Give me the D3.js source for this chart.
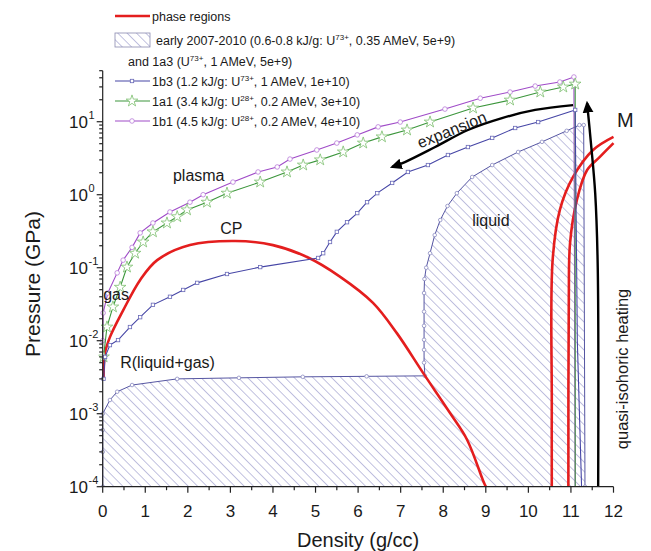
<!DOCTYPE html>
<html><head><meta charset="utf-8">
<script src="https://cdn.jsdelivr.net/npm/d3@7"></script>
<style>body{margin:0;background:#fff}svg text{font-family:"Liberation Sans",Arial,sans-serif;fill:#1a1a1a}</style>
</head><body><svg id="c" width="651" height="551"></svg>
<script>
// ---------- data ----------
const xTickValues = [0,1,2,3,4,5,6,7,8,9,10,11,12];
const yTickExponents = [-4,-3,-2,-1,0,1];

// red binodal (phase boundary)
const binodalX = [0.02,0.054,0.17,0.48,0.88,1.28,2.05,3.11,4.0,4.8,5.58,6.35,6.91,7.53,8.16,8.56,8.93,9.0];
const binodalY = [0.003,0.0068,0.0112,0.026,0.068,0.127,0.204,0.232,0.204,0.14,0.075,0.033,0.0127,0.0036,0.00102,0.00044,0.000124,0.0001];
// red melting curves
const melt1X = [10.55,10.55,10.57,10.74,11.05,11.52,12.0];
const melt1Y = [0.0001,0.0015,0.127,0.62,1.75,4.1,6.2];
const melt2X = [10.94,10.95,10.98,11.14,11.38,11.68,12.0];
const melt2Y = [0.0001,0.036,0.22,0.85,2.18,3.3,5.1];

// early 2007-2010 region outline
const earlyX = [0,0,0,0,0.17,0.34,0.69,1.75,3.2,4.7,6.2,7.57,7.55,7.55,7.55,7.55,7.55,7.55,7.56,7.6,7.69,7.8,7.93,8.1,8.32,8.68,9.15,9.76,10.32,10.9,11.2,11.3,11.33];
const earlyY = [0.0001,0.0003,0.0006,0.001,0.00154,0.002,0.00247,0.003,0.0031,0.0032,0.00325,0.0033,0.005,0.0075,0.0103,0.016,0.025,0.045,0.07,0.1,0.158,0.28,0.45,0.7,1.05,1.75,2.55,3.85,5.3,7.5,9.0,9.0,0.0001];

// trajectories
const b3X = [11.25,11.15,11.1,10.23,9.69,9.15,8.58,8.11,7.64,7.17,6.8,6.45,6.21,5.98,5.74,5.5,5.34,5.18,5.06,3.7,2.92,2.22,1.89,1.58,1.18,0.88,0.64,0.36,0.17,0.056,0.02];
const b3Y = [0.0001,0.01,14.5,9.9,8.2,6.0,4.5,3.5,2.55,2.05,1.45,1.05,0.79,0.56,0.42,0.31,0.225,0.158,0.136,0.102,0.082,0.062,0.0496,0.040,0.031,0.021,0.0154,0.0102,0.0087,0.006,0.003];
const a1X = [11.1,11.1,10.82,10.28,9.57,8.7,7.69,7.15,6.56,6.12,5.65,5.11,4.71,4.33,3.7,2.92,2.45,1.98,1.75,1.51,1.18,0.95,0.76,0.57,0.41,0.24,0.10,0.02];
const a1Y = [0.0001,32.8,29.9,25.5,19.8,15.4,9.9,7.7,6.2,5.1,3.85,3.0,2.55,2.05,1.49,1.05,0.79,0.62,0.50,0.41,0.31,0.225,0.158,0.102,0.054,0.029,0.0154,0.006];
const b1X = [11.1,11.07,10.74,10.16,9.57,8.87,8.04,6.99,6.47,5.98,5.5,5.03,4.4,4.1,3.65,3.06,2.36,2.05,1.58,1.18,0.88,0.69,0.48,0.34,0.12,0.01,0.0];
const b1Y = [0.0001,41,35,30.8,25.5,21,14.9,9.9,8.5,6.6,5.1,4.1,3.08,2.4,2.05,1.49,1.0,0.79,0.58,0.41,0.30,0.19,0.127,0.085,0.045,0.024,0.01];

// arrows
const expansionX = [11.05,10.16,9.38,8.58,7.81,7.1,6.8];
const expansionY = [16.9,14.5,11.2,7.7,4.5,2.8,2.4];
const heatingX = [11.64,11.63,11.57,11.47,11.38];
const heatingY = [0.0001,0.1,1.05,5.1,18];

// legend labels (^{..} = superscript)
const legendLabels = [
  "phase regions",
  "early 2007-2010 (0.6-0.8 kJ/g: U^{73+}, 0.35 AMeV, 5e+9)",
  "and 1a3 (U^{73+}, 1 AMeV, 5e+9)",
  "1b3 (1.2 kJ/g: U^{73+}, 1 AMeV, 1e+10)",
  "1a1 (3.4 kJ/g: U^{28+},  0.2 AMeV, 3e+10)",
  "1b1 (4.5 kJ/g: U^{28+}, 0.2 AMeV, 4e+10)"
];

// ---------- drawing ----------
const svg = d3.select("#c");
const x = d3.scaleLinear().domain([0,12]).range([102.7,613.5]);
const y = d3.scaleLog().domain([1e-4,50]).range([486.7,70.7]);

const defs = svg.append("defs");
const pat = defs.append("pattern").attr("id","hatch").attr("patternUnits","userSpaceOnUse")
  .attr("width",6.6).attr("height",6.6).attr("patternTransform","rotate(-45)");
pat.append("line").attr("x1",0).attr("y1",-1).attr("x2",0).attr("y2",8).attr("stroke","#8e8ec6").attr("stroke-width",1.1);
defs.append("clipPath").attr("id","clip").append("rect")
  .attr("x",x(0)-4).attr("y",y(50)-8).attr("width",x(12)-x(0)+8).attr("height",y(1e-4)-y(50)+8);
const mk = defs.append("marker").attr("id","arrow").attr("viewBox","0 0 10 10").attr("refX",8).attr("refY",5)
  .attr("markerWidth",5).attr("markerHeight",5).attr("orient","auto-start-reverse").attr("markerUnits","strokeWidth");
mk.append("path").attr("d","M0,0.5 L10,5 L0,9.5 Z").attr("fill","#000");

const line = d3.line().x(d=>x(d[0])).y(d=>y(d[1]));
const smooth = d3.line().x(d=>x(d[0])).y(d=>y(d[1])).curve(d3.curveCatmullRom.alpha(0.5));

const plot = svg.append("g").attr("clip-path","url(#clip)");

// hatched region
const early = d3.zip(earlyX, earlyY);
plot.append("path").attr("d", line(early)+"Z").attr("fill","url(#hatch)").attr("stroke","none");
plot.append("path").attr("d", line(early)).attr("fill","none").attr("stroke","#5656a2").attr("stroke-width",1);
plot.selectAll(".em").data(early).join("circle").attr("cx",d=>x(d[0])).attr("cy",d=>y(d[1])).attr("r",1.8)
  .attr("fill","#fff").attr("stroke","#8a8ac0").attr("stroke-width",0.8);

// red phase curves
[[binodalX,binodalY],[melt1X,melt1Y],[melt2X,melt2Y]].forEach(([xs,ys])=>{
  plot.append("path").attr("d", smooth(d3.zip(xs,ys))).attr("fill","none").attr("stroke","#e41e1e").attr("stroke-width",2.6);
});

// trajectories
function traj(xs, ys, color, markerFn){
  const pts = d3.zip(xs,ys);
  plot.append("path").attr("d", line(pts)).attr("fill","none").attr("stroke",color).attr("stroke-width",1.1);
  markerFn(plot, pts.filter(d=>d[1]>0.0002 && !(d[0]>11.05 && d[1]<1)));
}
const circleMarks = (col)=> (g,pts)=> g.selectAll(null).data(pts).join("circle")
  .attr("cx",d=>x(d[0])).attr("cy",d=>y(d[1])).attr("r",2.3).attr("fill","#fff").attr("stroke",col).attr("stroke-width",0.8);
const squareMarks = (col)=> (g,pts)=> g.selectAll(null).data(pts).join("rect")
  .attr("x",d=>x(d[0])-1.7).attr("y",d=>y(d[1])-1.7).attr("width",3.4).attr("height",3.4)
  .attr("fill","#fff").attr("stroke",col).attr("stroke-width",0.8);
const starSym = d3.symbol().type(d3.symbolStar).size(42);
const starMarks = (col)=> (g,pts)=> g.selectAll(null).data(pts).join("path")
  .attr("d",starSym).attr("transform",d=>`translate(${x(d[0])},${y(d[1])})`)
  .attr("fill","#fff").attr("stroke",col).attr("stroke-width",0.8);

traj(b1X,b1Y,"#a04cc8",circleMarks("#b77ad8"));
traj(a1X,a1Y,"#3c963c",starMarks("#7cbf6e"));
traj(b3X,b3Y,"#4646a6",squareMarks("#6a6ab8"));

// arrows
svg.append("path").attr("d", smooth(d3.zip(expansionX,expansionY))).attr("fill","none")
  .attr("stroke","#000").attr("stroke-width",2.4).attr("marker-end","url(#arrow)");
svg.append("path").attr("d", smooth(d3.zip(heatingX,heatingY))).attr("fill","none")
  .attr("stroke","#000").attr("stroke-width",2.4).attr("marker-end","url(#arrow)");

// axes
const ax = svg.append("g").attr("stroke","#222").attr("stroke-width",1.2).attr("fill","none");
ax.append("line").attr("x1",x(0)).attr("x2",x(12)).attr("y1",y(1e-4)).attr("y2",y(1e-4));
ax.append("line").attr("x1",x(0)).attr("x2",x(0)).attr("y1",y(1e-4)).attr("y2",y(50));
xTickValues.forEach(v=>{
  ax.append("line").attr("x1",x(v)).attr("x2",x(v)).attr("y1",y(1e-4)).attr("y2",y(1e-4)+6);
  if(v<12) ax.append("line").attr("x1",x(v+0.5)).attr("x2",x(v+0.5)).attr("y1",y(1e-4)).attr("y2",y(1e-4)+3.5);
});
svg.selectAll(".xt").data(xTickValues).join("text").attr("x",d=>x(d)).attr("y",517)
  .attr("text-anchor","middle").attr("font-size",17).text(d=>d);
yTickExponents.forEach(e=>{
  const v = Math.pow(10,e);
  ax.append("line").attr("x1",x(0)-6).attr("x2",x(0)).attr("y1",y(v)).attr("y2",y(v));
  for(let m=2;m<=9;m++){ const mv=m*v; if(mv<=50.0001)
    ax.append("line").attr("x1",x(0)-3.5).attr("x2",x(0)).attr("y1",y(mv)).attr("y2",y(mv)); }
  svg.append("text").attr("x",88).attr("y",y(v)+6).attr("text-anchor","end").attr("font-size",17).text("10");
  svg.append("text").attr("x",88.5).attr("y",y(v)-3).attr("font-size",11).text(e);
});
svg.append("text").attr("transform",`translate(40,284) rotate(-90)`).attr("text-anchor","middle")
  .attr("font-size",21).text("Pressure (GPa)");
svg.append("text").attr("x",(x(0)+x(12))/2).attr("y",547).attr("text-anchor","middle")
  .attr("font-size",20).text("Density (g/cc)");

// annotations
const ann = (t,dx,dy,size,anchor)=>svg.append("text").attr("x",x(dx)).attr("y",y(dy)).attr("font-size",size)
  .attr("text-anchor",anchor||"start").text(t);
ann("plasma",1.65,1.54,16);
ann("CP",2.76,0.29,16);
ann("gas",0.01,0.036,16);
ann("R(liquid+gas)",0.41,0.0042,16);
ann("liquid",8.68,0.37,16);
ann("M",12.08,8.5,20);
svg.append("text").attr("transform",`translate(${x(8.25)},${y(6.6)}) rotate(-22)`).attr("text-anchor","middle")
  .attr("font-size",16).text("expansion");
svg.append("text").attr("transform",`translate(628,${y(0.0041)}) rotate(-90)`).attr("text-anchor","middle")
  .attr("font-size",16.5).text("quasi-isohoric heating");

// legend
function richText(sel, s){
  const parts = s.split(/(\^\{[^}]*\})/);
  let up=false;
  parts.forEach(p=>{
    if(!p) return;
    if(p.startsWith("^{")){ sel.append("tspan").attr("dy",-5).attr("font-size",8).text(p.slice(2,-1)); up=true; }
    else { const t=sel.append("tspan").text(p); if(up){ t.attr("dy",5); up=false; } }
  });
}
const lg = svg.append("g");
lg.append("line").attr("x1",115).attr("x2",150).attr("y1",16).attr("y2",16).attr("stroke","#e41e1e").attr("stroke-width",2.6);
lg.append("rect").attr("x",115).attr("y",33).attr("width",35).attr("height",14).attr("fill","url(#hatch)").attr("stroke","#8a8ab0").attr("stroke-width",0.8);
const legY = [21,45,66,86,106,126];
const legX = [152,156,128,152,152,152];
legendLabels.forEach((s,i)=>{ richText(lg.append("text").attr("x",legX[i]).attr("y",legY[i]).attr("font-size",12.5), s); });
const legLines = [[81,"#4646a6",squareMarks("#6a6ab8")],[101,"#3c963c",starMarks("#7cbf6e")],[121,"#a04cc8",circleMarks("#b77ad8")]];
legLines.forEach(([ly,col,mf])=>{
  lg.append("line").attr("x1",115).attr("x2",150).attr("y1",ly).attr("y2",ly).attr("stroke",col).attr("stroke-width",1.1);
  mf(lg,[[x.invert(132),y.invert(ly)]]);
});
</script></body></html>
